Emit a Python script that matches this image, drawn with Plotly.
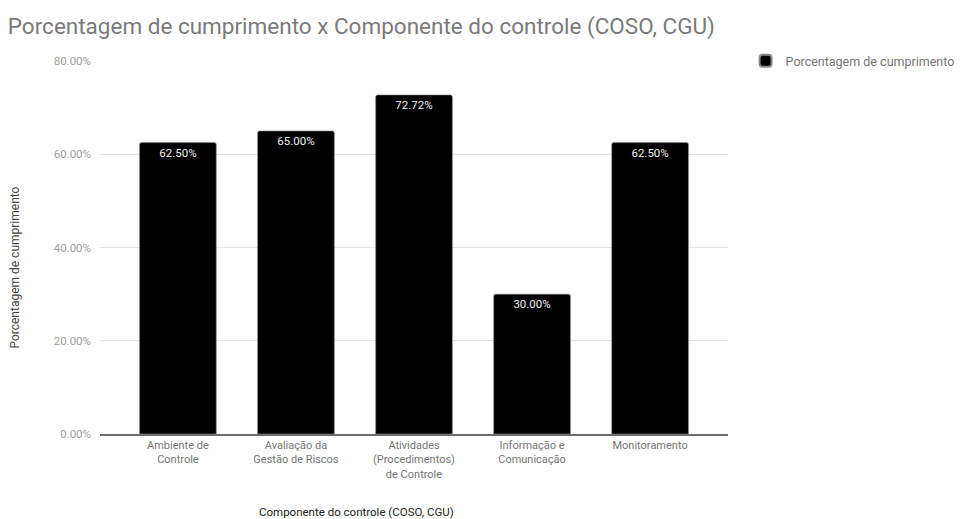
import plotly.graph_objects as go

# Components of internal control and their compliance share
categories = [
    "Ambiente de<br>Controle",
    "Avaliação da<br>Gestão de Riscos",
    "Atividades<br>(Procedimentos)<br>de Controle",
    "Informação e<br>Comunicação",
    "Monitoramento",
]
compliance = [0.625, 0.65, 0.7272, 0.30, 0.625]
y_ticks = [0.0, 0.2, 0.4, 0.6, 0.8]
series_name = "Porcentagem de cumprimento"

FONT = "Roboto, Arial, sans-serif"

fig = go.Figure()
fig.add_trace(go.Bar(
    x=list(range(len(categories))),
    y=compliance,
    name=series_name,
    width=0.65,
    marker=dict(color="#000000", line=dict(color="#8a8a8a", width=0.6), cornerradius=2),
    text=[f"{v:.2%}" for v in compliance],
    textposition="inside",
    insidetextanchor="end",
    textangle=0,
    constraintext="none",
    textfont=dict(family=FONT, size=11.5, color="#f2f2f2"),
    showlegend=True,
))

fig.update_layout(
    width=977,
    height=519,
    margin=dict(l=100, r=249, t=61, b=85, autoexpand=False),
    paper_bgcolor="#ffffff",
    plot_bgcolor="#ffffff",
    font=dict(family=FONT, color="#757575"),
    title=dict(
        text="Porcentagem de cumprimento x Componente do controle (COSO, CGU)",
        x=0.008, xanchor="left", y=0.950, yanchor="middle",
        font=dict(family=FONT, size=22.5, color="#7a7a7a"),
    ),
    showlegend=True,
    legend=dict(
        x=1.028, xanchor="left", y=1.0, yanchor="middle",
        font=dict(family=FONT, size=12.5, color="#757575"),
        itemsizing="constant",
        bgcolor="rgba(0,0,0,0)",
    ),
    xaxis=dict(
        tickmode="array",
        tickvals=list(range(len(categories))),
        ticktext=categories,
        range=[-0.66, len(categories) - 0.34],
        showgrid=False,
        showline=True,
        linecolor="#6e6e6e",
        linewidth=1.5,
        ticks="",
        tickfont=dict(family=FONT, size=11, color="#757575"),
        fixedrange=True,
    ),
    yaxis=dict(
        range=[0, 0.8],
        tickmode="array",
        tickvals=y_ticks,
        tickformat=".2%",
        showgrid=True,
        gridcolor="#e3e3e3",
        gridwidth=1,
        zeroline=False,
        ticks="",
        ticklabelstandoff=8,
        tickfont=dict(family=FONT, size=11.5, color="#9e9e9e"),
        fixedrange=True,
    ),
    annotations=[
        dict(
            text="Componente do controle (COSO, CGU)",
            xref="paper", yref="paper", x=0.408, y=-0.208,
            xanchor="center", yanchor="middle", showarrow=False,
            font=dict(family=FONT, size=11.5, color="#222222"),
        ),
        dict(
            text="Porcentagem de cumprimento",
            xref="paper", yref="paper", x=-0.136, y=0.445,
            xanchor="center", yanchor="middle", showarrow=False, textangle=-90,
            font=dict(family=FONT, size=12, color="#444444"),
        ),
    ],
)

fig.write_html("out.html")
